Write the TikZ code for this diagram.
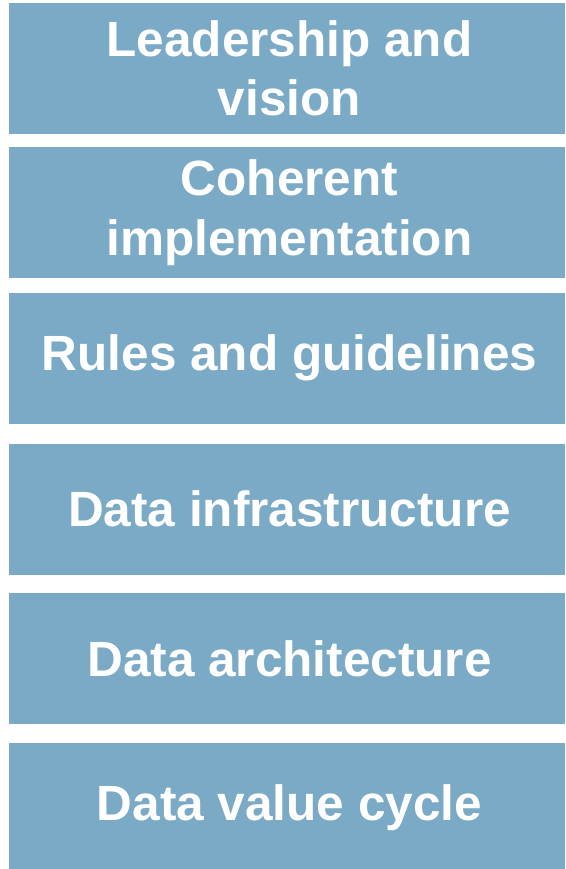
\documentclass[tikz,border=0pt]{standalone}
\usepackage{fontspec}
\setmainfont{Liberation Sans}
\usepackage{tikz}
\usetikzlibrary{positioning}
\definecolor{layerblue}{RGB}{122,170,197}

\begin{document}
\begin{tikzpicture}[every text node part/.style={align=center},
layer/.style={fill=layerblue, text=white, inner sep=0pt, outer sep=0pt, minimum width=556pt, minimum height=131pt, font=\fontsize{49.5}{59.5}\selectfont\bfseries}]
\useasboundingbox (0,0) rectangle (565pt,-869pt);
\node [layer] (lead) at (287pt,-68.5pt) {\hspace*{5pt}Leadership and\\\hspace*{5pt}vision};
\node [layer, below=13pt of lead] (impl) {\hspace*{5pt}Coherent\\\hspace*{5pt}implementation};
\node [layer, below=14.5pt of impl] (rules) {\hspace*{5pt}Rules and guidelines};
\node [layer, below=20pt of rules] (infra) {\hspace*{5pt}Data infrastructure};
\node [layer, below=18.5pt of infra] (arch) {\hspace*{5pt}Data architecture};
\node [layer, below=18.5pt of arch] (cycle) {\hspace*{5pt}Data value cycle};
\end{tikzpicture}
\end{document}
